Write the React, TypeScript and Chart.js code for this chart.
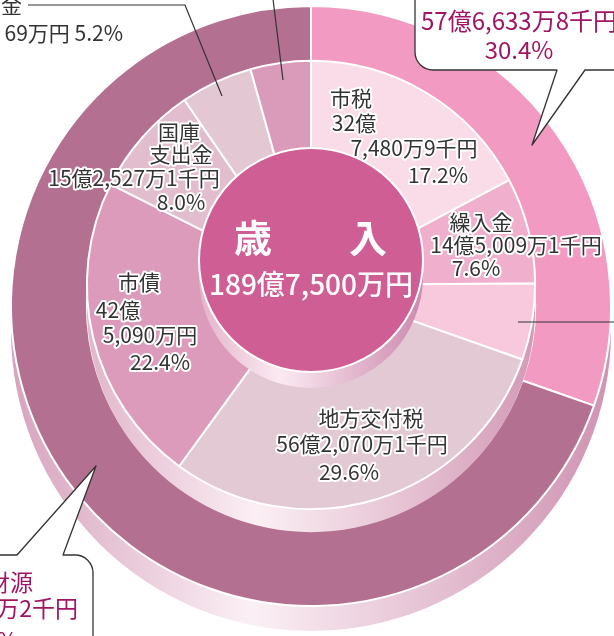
import React, { useEffect, useRef } from 'react';
import { Chart, registerables } from 'chart.js';

Chart.register(...registerables);

// ---- data (単位: 万円) ----
const outerLabels = ['自主財源', '依存財源'];
const outerValues = [576633.8, 1320866.2];
const outerColors = ['#F29AC2', '#B47090'];

const innerLabels = ['市税', '繰入金', 'その他', '地方交付税', '市債', '国庫支出金', '県支出金', 'その他'];
const innerValues = [327480.9, 145009.1, 104143.8, 562070.1, 425090, 152527.1, 98669, 82510];
const innerColors = ['#FADCE8', '#F0AFCD', '#F8C9DC', '#E3C9D4', '#DC9BBA', '#E2BDCE', '#E3C8D4', '#DA9BBA'];

const totalTitle = ['歳', '入'];
const totalText = '189億7,500万円';

const shiLines = ['市税', '32億', '7,480万9千円', '17.2%'];
const kuriLines = ['繰入金', '14億5,009万1千円', '7.6%'];
const koufuLines = ['地方交付税', '56億2,070万1千円', '29.6%'];
const saiLines = ['市債', '42億', '5,090万円', '22.4%'];
const kokkoLines = ['国庫', '支出金', '15億2,527万1千円', '8.0%'];
const kenLines = ['金', '69万円 5.2%'];
const jishuLines = ['57億6,633万8千円', '30.4%'];
const izonLines = ['財源', '132億866万2千円', '69.6%'];

const FONT = '"Noto Sans CJK JP", "Noto Sans", sans-serif';
const RAISE = [0, -21];
const DEPTH = [25, 23];

function sideBand(ctx: CanvasRenderingContext2D, cx: number, cy: number, r: number, depth: number, stops: [number, string][]) {
  const g = ctx.createLinearGradient(cx - r, 0, cx + r, 0);
  stops.forEach(([o, c]) => g.addColorStop(o, c));
  ctx.beginPath();
  ctx.moveTo(cx + r, cy);
  ctx.lineTo(cx + r, cy + depth);
  ctx.arc(cx, cy + depth, r, 0, Math.PI, false);
  ctx.lineTo(cx - r, cy);
  ctx.closePath();
  ctx.fillStyle = g;
  ctx.fill();
}

function halo(ctx: CanvasRenderingContext2D, text: string, x: number, y: number, size: number, color = '#333', align: CanvasTextAlign = 'center') {
  ctx.font = `${size}px ${FONT}`;
  ctx.textAlign = align;
  ctx.textBaseline = 'middle';
  ctx.lineJoin = 'round';
  ctx.lineWidth = 4;
  ctx.strokeStyle = '#fff';
  ctx.strokeText(text, x, y);
  ctx.fillStyle = color;
  ctx.fillText(text, x, y);
}

function plain(ctx: CanvasRenderingContext2D, text: string, x: number, y: number, size: number, color: string, align: CanvasTextAlign = 'center', weight = 'normal') {
  ctx.font = `${weight} ${size}px ${FONT}`;
  ctx.textAlign = align;
  ctx.textBaseline = 'middle';
  ctx.fillStyle = color;
  ctx.fillText(text, x, y);
}

const layered = {
  id: 'layered',
  beforeDatasetDraw(chart: any, args: any) {
    const ctx: CanvasRenderingContext2D = chart.ctx;
    const arc = args.meta.data[0];
    const i = args.index;
    ctx.save();
    const cy = arc.y + RAISE[i];
    if (i === 0) {
      sideBand(ctx, arc.x, cy, arc.outerRadius, DEPTH[i], [[0, '#D7A3BE'], [0.4, '#FBF0F5'], [1, '#CF93B2']]);
    } else {
      sideBand(ctx, arc.x, cy, arc.outerRadius, DEPTH[i], [[0, '#E2B6CB'], [0.38, '#FBEFF4'], [1, '#D39AB6']]);
    }
    ctx.translate(0, RAISE[i]);
  },
  afterDatasetDraw(chart: any) {
    chart.ctx.restore();
  },
  afterDatasetsDraw(chart: any) {
    const ctx: CanvasRenderingContext2D = chart.ctx;
    const arc = chart.getDatasetMeta(0).data[0];
    const cx = arc.x;
    const cy = arc.y - 46;
    const r = 112;
    ctx.save();
    sideBand(ctx, cx, cy, r, 16, [[0, '#E4B3CA'], [0.36, '#FBEAF2'], [1, '#CC8AAE']]);
    ctx.beginPath();
    ctx.arc(cx, cy, r, 0, Math.PI * 2);
    ctx.fillStyle = '#CF5E94';
    ctx.fill();
    ctx.lineWidth = 2;
    ctx.strokeStyle = '#fff';
    ctx.stroke();
    plain(ctx, totalTitle[0], 253, 238, 38, '#fff', 'center', 'bold');
    plain(ctx, totalTitle[1], 368, 238, 38, '#fff', 'center', 'bold');
    plain(ctx, totalText, 311, 284, 28, '#fff', 'center', '500');
    ctx.restore();
  },
  afterDraw(chart: any) {
    const ctx: CanvasRenderingContext2D = chart.ctx;
    ctx.save();
    // leader lines
    ctx.strokeStyle = '#333';
    ctx.lineWidth = 1.2;
    ctx.beginPath();
    ctx.moveTo(28, 5); ctx.lineTo(185, 5); ctx.lineTo(222, 96);
    ctx.moveTo(273, -1); ctx.lineTo(283, 80);
    ctx.moveTo(518, 322); ctx.lineTo(615, 322);
    ctx.stroke();

    // inner labels
    const s = 21;
    halo(ctx, shiLines[0], 351, 98, s);
    halo(ctx, shiLines[1], 354, 123, s);
    halo(ctx, shiLines[2], 414, 148, s);
    halo(ctx, shiLines[3], 438, 175, s);

    halo(ctx, kuriLines[0], 481, 222, s);
    halo(ctx, kuriLines[1], 516, 245, s);
    halo(ctx, kuriLines[2], 476, 268, s);

    halo(ctx, koufuLines[0], 371, 418, s);
    halo(ctx, koufuLines[1], 362, 444, s);
    halo(ctx, koufuLines[2], 349, 472, s);

    halo(ctx, saiLines[0], 139, 282, s);
    halo(ctx, saiLines[1], 118, 310, s);
    halo(ctx, saiLines[2], 150, 335, s);
    halo(ctx, saiLines[3], 160, 362, s);

    halo(ctx, kokkoLines[0], 179, 132, s);
    halo(ctx, kokkoLines[1], 181, 154, s);
    halo(ctx, kokkoLines[2], 134, 178, s);
    halo(ctx, kokkoLines[3], 181, 202, s);

    // top-left outside label
    plain(ctx, kenLines[0], 22, 5, 21, '#333', 'right');
    plain(ctx, kenLines[1], 123, 33, 21, '#333', 'right');

    // callout top-right
    ctx.lineWidth = 1.3;
    ctx.strokeStyle = '#333';
    ctx.fillStyle = '#fff';
    ctx.beginPath();
    ctx.moveTo(620, 70);
    ctx.lineTo(585, 70);
    ctx.lineTo(532, 145);
    ctx.lineTo(557, 70);
    ctx.lineTo(433, 70);
    ctx.arcTo(415, 70, 415, 52, 18);
    ctx.lineTo(415, -10);
    ctx.lineTo(620, -10);
    ctx.closePath();
    ctx.fill();
    ctx.stroke();
    plain(ctx, jishuLines[0], 519, 21, 24, '#A01464');
    plain(ctx, jishuLines[1], 519, 50, 24, '#A01464');

    // callout bottom-left
    ctx.fillStyle = '#fff';
    ctx.strokeStyle = '#333';
    ctx.lineWidth = 1.3;
    ctx.beginPath();
    ctx.moveTo(-10, 555);
    ctx.lineTo(17, 555);
    ctx.lineTo(96, 466);
    ctx.lineTo(63, 555);
    ctx.lineTo(75, 555);
    ctx.arcTo(93, 555, 93, 573, 18);
    ctx.lineTo(93, 650);
    ctx.lineTo(-10, 650);
    ctx.closePath();
    ctx.fill();
    ctx.stroke();
    plain(ctx, izonLines[0], 33, 582, 23, '#A01464', 'right');
    plain(ctx, izonLines[1], 78, 608, 23, '#A01464', 'right');
    plain(ctx, izonLines[2], 18, 640, 23, '#A01464', 'right');
    ctx.restore();
  },
};

export default function App() {
  const ref = useRef<HTMLCanvasElement>(null);
  useEffect(() => {
    if (!ref.current) return;
    const chart = new Chart(ref.current, {
      type: 'doughnut',
      data: {
        labels: innerLabels,
        datasets: [
          {
            label: '財源',
            data: outerValues,
            backgroundColor: outerColors,
            borderColor: '#fff',
            borderWidth: 2,
            weight: 76,
            order: 1,
            clip: false,
          } as any,
          {
            label: '歳入',
            data: innerValues,
            backgroundColor: innerColors,
            borderColor: '#fff',
            borderWidth: 2,
            weight: 124,
            order: 0,
            clip: false,
          } as any,
        ],
      },
      options: {
        responsive: false,
        devicePixelRatio: 1,
        animation: false,
        events: [],
        radius: 300,
        cutout: 100,
        layout: { padding: { left: 11, right: 3, top: 6, bottom: 30 } },
        plugins: { legend: { display: false }, tooltip: { enabled: false } },
      } as any,
      plugins: [layered],
    });
    return () => chart.destroy();
  }, []);
  return (
    <div style={{ position: 'fixed', left: 0, top: 0, width: 614, height: 636, background: '#fff', overflow: 'hidden' }}>
      <canvas ref={ref} width={614} height={636} style={{ display: 'block', width: 614, height: 636 }} />
    </div>
  );
}

// outer ring labels kept for reference
export const _outerLabels = outerLabels;
